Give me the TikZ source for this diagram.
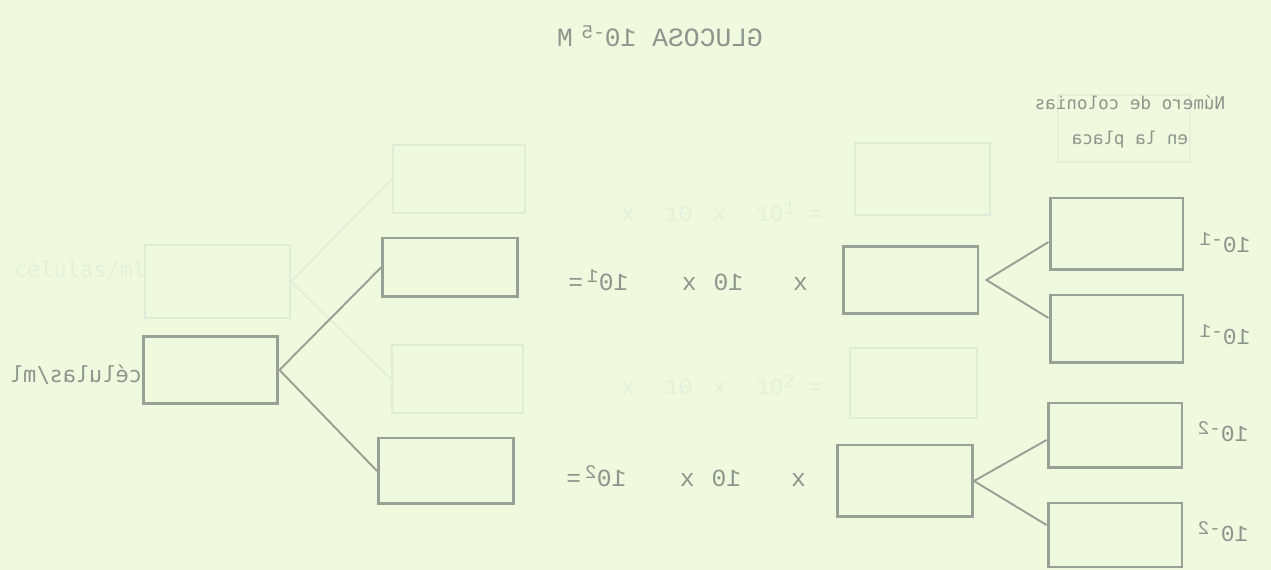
\documentclass[tikz,border=0pt]{standalone}
\usepackage{fontspec}
\newfontfamily\maq{Liberation Mono}
\newfontfamily\maqs{DejaVu Sans Mono}
\usetikzlibrary{calc}
\definecolor{papel}{RGB}{240,248,222}
\definecolor{tinta}{RGB}{150,162,150}
\definecolor{letra}{RGB}{140,150,140}
\definecolor{sombra}{RGB}{224,237,214}
\definecolor{sombrat}{RGB}{228,240,218}
\newcommand{\alto}[1]{\raisebox{0.6ex}{\fontsize{11}{11}\selectfont#1}}
\tikzset{
  caja/.style={draw=tinta,line width=1.7pt,minimum width=2.7cm,minimum height=1.35cm,inner sep=0pt},
  fcaja/.style={caja,draw=sombra,line width=1pt},
  rama/.style={draw=tinta,line width=1.1pt},
  frama/.style={draw=sombra,line width=0.8pt},
  espejo/.style={xscale=-1,text=letra,inner sep=0pt},
  tipo/.style={espejo,font=\maq\fontsize{14}{14}\selectfont},
  fondo/.style={text=sombrat,inner sep=0pt,font=\maq\fontsize{13}{13}\selectfont},
}

\begin{document}
\begin{tikzpicture}[x=0.02cm,y=-0.02cm]
  \useasboundingbox (0,0) rectangle (1271,570);
  \fill[papel] (0,0) rectangle (1271,570);
  % lo que se transparenta del reverso
  \node[fcaja,minimum width=2.9cm,minimum height=1.46cm] (fcel) at (217.5,281.5) {};
  \node[fcaja,minimum width=2.64cm,minimum height=1.36cm] (fm1) at (459,179) {};
  \node[fcaja,minimum width=2.62cm,minimum height=1.36cm] (fm2) at (457.5,379) {};
  \node[fcaja,minimum height=1.44cm] (fr1) at (922.5,179) {};
  \node[fcaja,minimum width=2.54cm,minimum height=1.4cm] (fr2) at (913.5,383) {};
  \node[fcaja,draw=sombrat,minimum width=2.64cm,minimum height=1.34cm] (fp0) at (1124,128.5) {};
  \draw[frama] (fcel.east) -- (fm1.west);
  \draw[frama] (fcel.east) -- (fm2.west);
  \node[fondo,font=\maqs\fontsize{12.5}{12.5}\selectfont] (fcelt) at (80,270) {células/ml};
  \node[fondo] (fec1) at (722,212) {x\hspace{0.6cm}10\hspace{0.4cm}x\hspace{0.6cm}10\alto{1} =};
  \node[fondo] (fec2) at (722,385) {x\hspace{0.6cm}10\hspace{0.4cm}x\hspace{0.6cm}10\alto{2} =};
  % cajas
  \node[caja] (cel) at (210.5,370) {};
  \node[caja,minimum height=1.18cm] (m1) at (450,267.5) {};
  \node[caja,minimum height=1.32cm] (m2) at (446,471) {};
  \node[caja] (r1) at (910.5,280) {};
  \node[caja,minimum height=1.44cm] (r2) at (905,481) {};
  \node[caja,minimum width=2.66cm,minimum height=1.44cm] (p1) at (1116.5,234) {};
  \node[caja,minimum width=2.66cm,minimum height=1.36cm] (p2) at (1116.5,329) {};
  \node[caja,minimum width=2.68cm,minimum height=1.3cm] (p3) at (1115,435.5) {};
  \node[caja,minimum width=2.68cm,minimum height=1.28cm] (p4) at (1115,535) {};
  % ramas
  \draw[rama] (cel.east) -- (m1.west);
  \draw[rama] (cel.east) -- (m2.west);
  \coordinate (v1) at ([xshift=0.14cm]r1.east);
  \draw[rama] ([yshift=-0.16cm]p1.west) -- (v1) -- ([yshift=0.22cm]p2.west);
  \draw[rama] ([yshift=-0.09cm]p3.west) -- (r2.east) -- ([yshift=0.2cm]p4.west);
  % textos (invertidos)
  \node[tipo,font=\maq\fontsize{15}{15}\selectfont] (titulo) at (660,36) {GLUCOSA 10\alto{-5}\,\,M};
  \node[espejo,font=\maqs\fontsize{10}{20}\selectfont,align=center] (colonias) at (1130,122) {Número de colonias\\en la placa};
  \node[espejo,font=\maqs\fontsize{12.5}{12.5}\selectfont] (celulas) at (76,375) {células/ml};
  \node[tipo] (ec1) at (688,280) {x\hspace{1cm}10\hspace{0.34cm}x\hspace{1.07cm}10\alto{1}\,=};
  \node[tipo] (ec2) at (686,476) {x\hspace{1cm}10\hspace{0.34cm}x\hspace{1.07cm}10\alto{2}\,=};
  \node[tipo,font=\maq\fontsize{13}{13}\selectfont] (d1) at (1225,243) {10\alto{-1}};
  \node[tipo,font=\maq\fontsize{13}{13}\selectfont] (d2) at (1225,335) {10\alto{-1}};
  \node[tipo,font=\maq\fontsize{13}{13}\selectfont] (d3) at (1223,432) {10\alto{-2}};
  \node[tipo,font=\maq\fontsize{13}{13}\selectfont] (d4) at (1223,532) {10\alto{-2}};
\end{tikzpicture}
\end{document}
